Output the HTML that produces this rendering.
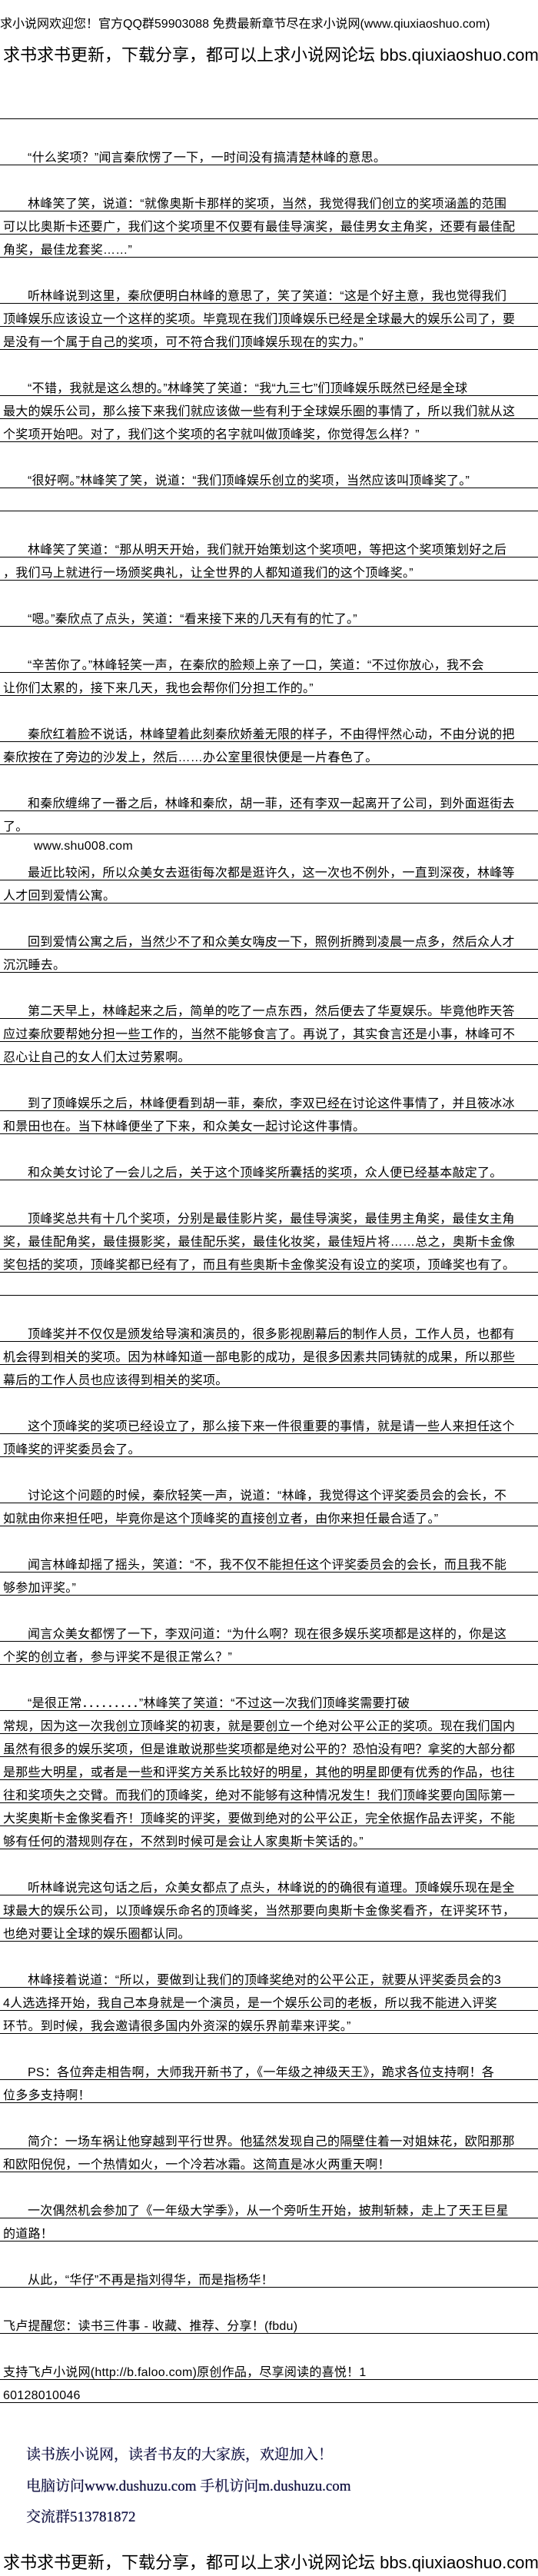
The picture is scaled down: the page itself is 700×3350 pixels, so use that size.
<!DOCTYPE html>
<html><head><meta charset="utf-8">
<style>
html,body{margin:0;padding:0;background:#fff;}
body{width:700px;height:3350px;position:relative;overflow:hidden;font-family:"Liberation Sans","Noto Sans CJK SC",sans-serif;color:#000;}
.l{position:absolute;left:0;width:700px;height:28px;border-bottom:1px solid #000;box-sizing:content-box;font-size:16px;line-height:17px;padding-top:0;white-space:nowrap;letter-spacing:0.25px;}
.l span{position:absolute;left:4px;top:11px;}
.l.i span{left:36px;}
.n{border-bottom:none;}
.h1{position:absolute;left:0;top:23px;font-size:16px;line-height:18px;white-space:nowrap;}
.h2{position:absolute;left:4px;top:60px;font-size:22px;line-height:24px;white-space:nowrap;}
.f{position:absolute;left:34px;font-family:"Liberation Serif","Noto Serif CJK SC",serif;font-size:19px;line-height:22px;color:#101040;white-space:nowrap;text-shadow:0 0 0.6px #101040;}
</style></head><body>
<div class="h1">求小说网欢迎您！官方QQ群59903088 免费最新章节尽在求小说网(www.qiuxiaoshuo.com)</div>
<div class="h2">求书求书更新，下载分享，都可以上求小说网论坛 bbs.qiuxiaoshuo.com</div>

<div class="l" style="top:126px"><span></span></div>
<div class="l i" style="top:186px"><span>“什么奖项？”闻言秦欣愣了一下，一时间没有搞清楚林峰的意思。</span></div>
<div class="l i" style="top:246px"><span>林峰笑了笑，说道：“就像奥斯卡那样的奖项，当然，我觉得我们创立的奖项涵盖的范围</span></div>
<div class="l" style="top:276px"><span>可以比奥斯卡还要广，我们这个奖项里不仅要有最佳导演奖，最佳男女主角奖，还要有最佳配</span></div>
<div class="l" style="top:306px"><span>角奖，最佳龙套奖……”</span></div>
<div class="l i" style="top:366px"><span>听林峰说到这里，秦欣便明白林峰的意思了，笑了笑道：“这是个好主意，我也觉得我们</span></div>
<div class="l" style="top:396px"><span>顶峰娱乐应该设立一个这样的奖项。毕竟现在我们顶峰娱乐已经是全球最大的娱乐公司了，要</span></div>
<div class="l" style="top:426px"><span>是没有一个属于自己的奖项，可不符合我们顶峰娱乐现在的实力。”</span></div>
<div class="l i" style="top:486px"><span>“不错，我就是这么想的。”林峰笑了笑道：“我“九三七”们顶峰娱乐既然已经是全球</span></div>
<div class="l" style="top:516px"><span>最大的娱乐公司，那么接下来我们就应该做一些有利于全球娱乐圈的事情了，所以我们就从这</span></div>
<div class="l" style="top:546px"><span>个奖项开始吧。对了，我们这个奖项的名字就叫做顶峰奖，你觉得怎么样？”</span></div>
<div class="l i" style="top:606px"><span>“很好啊。”林峰笑了笑，说道：“我们顶峰娱乐创立的奖项，当然应该叫顶峰奖了。”</span></div>
<div class="l" style="top:636px"><span></span></div>
<div class="l i" style="top:696px"><span>林峰笑了笑道：“那从明天开始，我们就开始策划这个奖项吧，等把这个奖项策划好之后</span></div>
<div class="l" style="top:726px"><span>，我们马上就进行一场颁奖典礼，让全世界的人都知道我们的这个顶峰奖。”</span></div>
<div class="l i" style="top:786px"><span>“嗯。”秦欣点了点头，笑道：“看来接下来的几天有有的忙了。”</span></div>
<div class="l i" style="top:846px"><span>“辛苦你了。”林峰轻笑一声，在秦欣的脸颊上亲了一口，笑道：“不过你放心，我不会</span></div>
<div class="l" style="top:876px"><span>让你们太累的，接下来几天，我也会帮你们分担工作的。”</span></div>
<div class="l i" style="top:936px"><span>秦欣红着脸不说话，林峰望着此刻秦欣娇羞无限的样子，不由得怦然心动，不由分说的把</span></div>
<div class="l" style="top:966px"><span>秦欣按在了旁边的沙发上，然后……办公室里很快便是一片春色了。</span></div>
<div class="l i" style="top:1026px"><span>和秦欣缠绵了一番之后，林峰和秦欣，胡一菲，还有李双一起离开了公司，到外面逛街去</span></div>
<div class="l" style="top:1056px"><span>了。</span></div>
<div class="l n" style="top:1081px"><span style="left:44px">www.shu008.com</span></div>
<div class="l i" style="top:1116px"><span>最近比较闲，所以众美女去逛街每次都是逛许久，这一次也不例外，一直到深夜，林峰等</span></div>
<div class="l" style="top:1146px"><span>人才回到爱情公寓。</span></div>
<div class="l i" style="top:1206px"><span>回到爱情公寓之后，当然少不了和众美女嗨皮一下，照例折腾到凌晨一点多，然后众人才</span></div>
<div class="l" style="top:1236px"><span>沉沉睡去。</span></div>
<div class="l i" style="top:1296px"><span>第二天早上，林峰起来之后，简单的吃了一点东西，然后便去了华夏娱乐。毕竟他昨天答</span></div>
<div class="l" style="top:1326px"><span>应过秦欣要帮她分担一些工作的，当然不能够食言了。再说了，其实食言还是小事，林峰可不</span></div>
<div class="l" style="top:1356px"><span>忍心让自己的女人们太过劳累啊。</span></div>
<div class="l i" style="top:1416px"><span>到了顶峰娱乐之后，林峰便看到胡一菲，秦欣，李双已经在讨论这件事情了，并且筱冰冰</span></div>
<div class="l" style="top:1446px"><span>和景田也在。当下林峰便坐了下来，和众美女一起讨论这件事情。</span></div>
<div class="l i" style="top:1506px"><span>和众美女讨论了一会儿之后，关于这个顶峰奖所囊括的奖项，众人便已经基本敲定了。</span></div>
<div class="l i" style="top:1566px"><span>顶峰奖总共有十几个奖项，分别是最佳影片奖，最佳导演奖，最佳男主角奖，最佳女主角</span></div>
<div class="l" style="top:1596px"><span>奖，最佳配角奖，最佳摄影奖，最佳配乐奖，最佳化妆奖，最佳短片将……总之，奥斯卡金像</span></div>
<div class="l" style="top:1626px"><span>奖包括的奖项，顶峰奖都已经有了，而且有些奥斯卡金像奖没有设立的奖项，顶峰奖也有了。</span></div>
<div class="l" style="top:1656px"><span></span></div>
<div class="l i" style="top:1716px"><span>顶峰奖并不仅仅是颁发给导演和演员的，很多影视剧幕后的制作人员，工作人员，也都有</span></div>
<div class="l" style="top:1746px"><span>机会得到相关的奖项。因为林峰知道一部电影的成功，是很多因素共同铸就的成果，所以那些</span></div>
<div class="l" style="top:1776px"><span>幕后的工作人员也应该得到相关的奖项。</span></div>
<div class="l i" style="top:1836px"><span>这个顶峰奖的奖项已经设立了，那么接下来一件很重要的事情，就是请一些人来担任这个</span></div>
<div class="l" style="top:1866px"><span>顶峰奖的评奖委员会了。</span></div>
<div class="l i" style="top:1926px"><span>讨论这个问题的时候，秦欣轻笑一声，说道：“林峰，我觉得这个评奖委员会的会长，不</span></div>
<div class="l" style="top:1956px"><span>如就由你来担任吧，毕竟你是这个顶峰奖的直接创立者，由你来担任最合适了。”</span></div>
<div class="l i" style="top:2016px"><span>闻言林峰却摇了摇头，笑道：“不，我不仅不能担任这个评奖委员会的会长，而且我不能</span></div>
<div class="l" style="top:2046px"><span>够参加评奖。”</span></div>
<div class="l i" style="top:2106px"><span>闻言众美女都愣了一下，李双问道：“为什么啊？现在很多娱乐奖项都是这样的，你是这</span></div>
<div class="l" style="top:2136px"><span>个奖的创立者，参与评奖不是很正常么？”</span></div>
<div class="l i" style="top:2196px"><span>“是很正常．．．．．．．．．”林峰笑了笑道：“不过这一次我们顶峰奖需要打破</span></div>
<div class="l" style="top:2226px"><span>常规，因为这一次我创立顶峰奖的初衷，就是要创立一个绝对公平公正的奖项。现在我们国内</span></div>
<div class="l" style="top:2256px"><span>虽然有很多的娱乐奖项，但是谁敢说那些奖项都是绝对公平的？恐怕没有吧？拿奖的大部分都</span></div>
<div class="l" style="top:2286px"><span>是那些大明星，或者是一些和评奖方关系比较好的明星，其他的明星即便有优秀的作品，也往</span></div>
<div class="l" style="top:2316px"><span>往和奖项失之交臂。而我们的顶峰奖，绝对不能够有这种情况发生！我们顶峰奖要向国际第一</span></div>
<div class="l" style="top:2346px"><span>大奖奥斯卡金像奖看齐！顶峰奖的评奖，要做到绝对的公平公正，完全依据作品去评奖，不能</span></div>
<div class="l" style="top:2376px"><span>够有任何的潜规则存在，不然到时候可是会让人家奥斯卡笑话的。”</span></div>
<div class="l i" style="top:2436px"><span>听林峰说完这句话之后，众美女都点了点头，林峰说的的确很有道理。顶峰娱乐现在是全</span></div>
<div class="l" style="top:2466px"><span>球最大的娱乐公司，以顶峰娱乐命名的顶峰奖，当然那要向奥斯卡金像奖看齐，在评奖环节，</span></div>
<div class="l" style="top:2496px"><span>也绝对要让全球的娱乐圈都认同。</span></div>
<div class="l i" style="top:2556px"><span>林峰接着说道：“所以，要做到让我们的顶峰奖绝对的公平公正，就要从评奖委员会的3</span></div>
<div class="l" style="top:2586px"><span>4人选选择开始，我自己本身就是一个演员，是一个娱乐公司的老板，所以我不能进入评奖</span></div>
<div class="l" style="top:2616px"><span>环节。到时候，我会邀请很多国内外资深的娱乐界前辈来评奖。”</span></div>
<div class="l i" style="top:2676px"><span>PS：各位奔走相告啊，大师我开新书了，《一年级之神级天王》，跪求各位支持啊！各</span></div>
<div class="l" style="top:2706px"><span>位多多支持啊！</span></div>
<div class="l i" style="top:2766px"><span>简介：一场车祸让他穿越到平行世界。他猛然发现自己的隔壁住着一对姐妹花，欧阳那那</span></div>
<div class="l" style="top:2796px"><span>和欧阳倪倪，一个热情如火，一个冷若冰霜。这简直是冰火两重天啊！</span></div>
<div class="l i" style="top:2856px"><span>一次偶然机会参加了《一年级大学季》，从一个旁听生开始，披荆斩棘，走上了天王巨星</span></div>
<div class="l" style="top:2886px"><span>的道路！</span></div>
<div class="l i" style="top:2946px"><span>从此，“华仔”不再是指刘得华，而是指杨华！</span></div>
<div class="l" style="top:3006px"><span>飞卢提醒您：读书三件事 - 收藏、推荐、分享！(fbdu)</span></div>
<div class="l" style="top:3066px"><span>支持飞卢小说网(http://b.faloo.com)原创作品，尽享阅读的喜悦！1</span></div>
<div class="l" style="top:3096px"><span>60128010046</span></div>

<div class="f" style="top:3182px">读书族小说网，读者书友的大家族，欢迎加入！</div>
<div class="f" style="top:3223px">电脑访问www.dushuzu.com 手机访问m.dushuzu.com</div>
<div class="f" style="top:3263px">交流群513781872</div>
<div class="h2" style="top:3321px">求书求书更新，下载分享，都可以上求小说网论坛 bbs.qiuxiaoshuo.com</div>
</body></html>
